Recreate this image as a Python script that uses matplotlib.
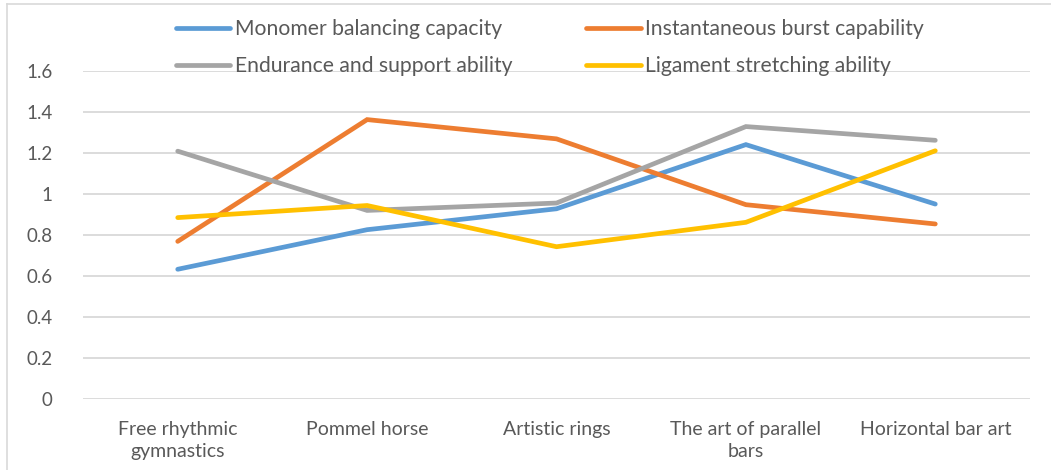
import matplotlib.pyplot as plt
from matplotlib.lines import Line2D

plt.rcParams['font.family'] = ['Lato', 'DejaVu Sans']

categories = ['Free rhythmic\ngymnastics', 'Pommel horse', 'Artistic rings',
              'The art of parallel\nbars', 'Horizontal bar art']
monomer = [0.634, 0.827, 0.929, 1.242, 0.952]
burst = [0.770, 1.364, 1.270, 0.949, 0.855]
endurance = [1.210, 0.921, 0.957, 1.330, 1.263]
ligament = [0.886, 0.945, 0.744, 0.863, 1.212]
yticks = [0, 0.2, 0.4, 0.6, 0.8, 1, 1.2, 1.4, 1.6]

series = [
    ('Monomer balancing capacity', monomer, '#5B9BD5'),
    ('Instantaneous burst capability', burst, '#ED7D31'),
    ('Endurance and support ability', endurance, '#A5A5A5'),
    ('Ligament stretching ability', ligament, '#FFC000'),
]

fig = plt.figure(figsize=(10.51, 4.70), dpi=100)
ax = fig.add_axes([0.079, 0.1505, 0.901, 0.698])

x = list(range(len(categories)))
lines = []
for name, vals, col in series:
    ln, = ax.plot(x, vals, color=col, lw=3.4, solid_capstyle='round',
                  solid_joinstyle='miter', label=name, zorder=3)
    lines.append(ln)

ax.set_xlim(-0.5, 4.5)
ax.set_ylim(0, 1.6)
ax.set_yticks(yticks)
ax.set_yticklabels([str(v) for v in yticks])
ax.set_xticks(x)
ax.set_xticklabels(categories, linespacing=1.35)
ax.grid(axis='y', color='#D9D9D9', lw=1.3, zorder=0)
for s in ax.spines.values():
    s.set_visible(False)
ax.tick_params(length=0, labelsize=13.5, colors='#595959')
ax.tick_params(axis='x', labelsize=14, pad=16)
ax.tick_params(axis='y', pad=22)

# legend filled row by row like the original
order = [0, 2, 1, 3]
leg = fig.legend([lines[i] for i in order], [series[i][0] for i in order],
                 loc='upper left', bbox_to_anchor=(0.149, 1.0), ncol=2,
                 frameon=False, fontsize=15.2, labelcolor='#595959',
                 handlelength=2.6, handletextpad=0.2, columnspacing=3.5,
                 labelspacing=0.82, borderaxespad=0.5)
for h in leg.get_lines():
    h.set_linewidth(3.4)

# chart frame
fig.add_artist(Line2D([0.007, 0.007], [0, 0.992], color='#D9D9D9', lw=1.2))
fig.add_artist(Line2D([0.007, 1.0], [0.992, 0.992], color='#D9D9D9', lw=1.2))

fig.savefig('out.png', dpi=100)
